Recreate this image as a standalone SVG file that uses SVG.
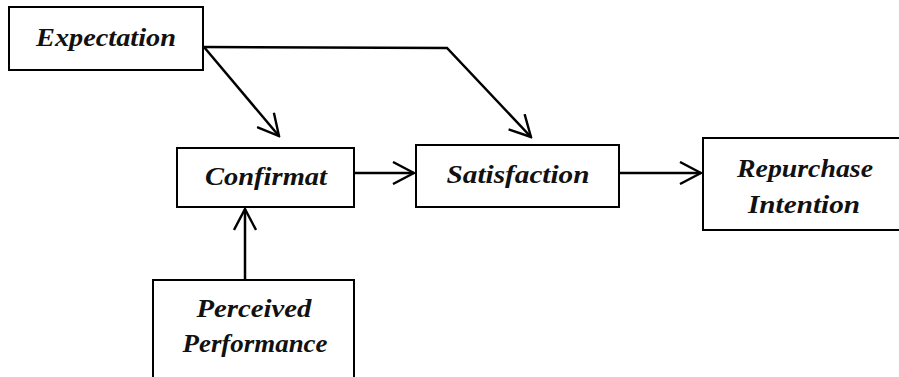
<svg xmlns="http://www.w3.org/2000/svg" width="899" height="377" viewBox="0 0 899 377">
<style>
.box{fill:#fff;stroke:#000;stroke-width:2}
.t{font-family:"Liberation Serif","DejaVu Serif",serif;font-style:italic;font-weight:bold;font-size:25px;fill:#111;text-anchor:middle}
.c{fill:none;stroke:#000;stroke-width:2.5}
</style>
<defs>
<marker id="a" viewBox="0 0 24 24" refX="22" refY="12" markerWidth="24" markerHeight="24" markerUnits="userSpaceOnUse" orient="auto">
<path d="M1,1 L22,12 L1,23" fill="none" stroke="#000" stroke-width="2.4"/>
</marker>
</defs>
<g id="connectors">
<path class="c" d="M204,47 L279,136" marker-end="url(#a)"/>
<path class="c" d="M204,47 L447,48 L531,137" marker-end="url(#a)"/>
<path class="c" d="M354,173 L414,173" marker-end="url(#a)"/>
<path class="c" d="M619,173 L701,173" marker-end="url(#a)"/>
<path class="c" d="M245,280 L245,209" marker-end="url(#a)"/>
</g>
<g id="expectation"><rect class="box" x="9" y="7" width="194" height="63"/><text class="t" x="106" y="46" textLength="140" lengthAdjust="spacingAndGlyphs">Expectation</text></g>
<g id="confirmat"><rect class="box" x="177" y="148" width="177" height="59"/><text class="t" x="266" y="185" textLength="122" lengthAdjust="spacingAndGlyphs">Confirmat</text></g>
<g id="satisfaction"><rect class="box" x="416" y="145" width="203" height="62"/><text class="t" x="518" y="183" textLength="143" lengthAdjust="spacingAndGlyphs">Satisfaction</text></g>
<g id="repurchase"><rect class="box" x="703" y="138" width="197" height="92"/><text class="t" x="805" y="177" textLength="136" lengthAdjust="spacingAndGlyphs">Repurchase</text><text class="t" x="804" y="213" textLength="112" lengthAdjust="spacingAndGlyphs">Intention</text></g>
<g id="perceived"><rect class="box" x="153" y="280" width="201" height="100"/><text class="t" x="254" y="317" textLength="115" lengthAdjust="spacingAndGlyphs">Perceived</text><text class="t" x="255" y="352" textLength="145" lengthAdjust="spacingAndGlyphs">Performance</text></g>
</svg>
